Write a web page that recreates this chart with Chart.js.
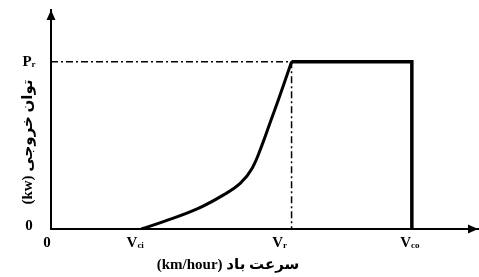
<!DOCTYPE html>
<html>
<head>
<meta charset="utf-8">
<script src="https://cdn.jsdelivr.net/npm/chart.js@4"></script>
<style>
  body { margin: 0; background: #fff; }
</style>
</head>
<body>
<canvas id="chart" width="479" height="277"></canvas>
<script>
// wind turbine power curve (schematic)
const curveX = [3, 3.74, 4.86, 5.74, 6.3, 6.69, 7.02, 7.3, 7.58, 8];
const curveY = [0, 0.044, 0.12, 0.204, 0.274, 0.364, 0.503, 0.643, 0.782, 1];
const ratedX = [8, 12, 12];
const ratedY = [1, 1, 0];
const guideX = [0, 8, 8];
const guideY = [1, 1, 0];

const xTicks = [0, 3, 8, 12];
const xTickLabels = [['0', ''], ['V', 'ci'], ['V', 'r'], ['V', 'co']];
const yTicks = [0, 1];
const yTickLabels = [['0', ''], ['P', 'r']];
const xTitle = 'سرعت باد (km/hour)';
const yTitle = 'توان خروجی (kw)';

const toPoints = (xs, ys) => xs.map((x, i) => ({ x: x, y: ys[i] }));

const mainFont = 'bold 15px "Liberation Serif", serif';
const subFont = 'bold 9px "Liberation Serif", serif';
const titleFont = 'bold 15px "Liberation Serif", "DejaVu Sans", sans-serif';

function drawLabel(ctx, parts, cx, cy) {
  ctx.font = mainFont;
  const w1 = ctx.measureText(parts[0]).width;
  ctx.font = subFont;
  const w2 = ctx.measureText(parts[1]).width;
  const left = cx - (w1 + w2) / 2;
  ctx.textAlign = 'left';
  ctx.textBaseline = 'middle';
  ctx.font = mainFont;
  ctx.fillText(parts[0], left, cy);
  ctx.font = subFont;
  ctx.fillText(parts[1], left + w1, cy + 3);
}

const axisDecor = {
  id: 'axisDecor',
  afterDraw(chart) {
    const { ctx, chartArea, scales: { x, y } } = chart;
    ctx.save();
    ctx.fillStyle = '#000';

    // arrow heads
    const y0 = y.getPixelForValue(0);
    const x0 = x.getPixelForValue(0);
    ctx.beginPath();
    ctx.moveTo(x0, chartArea.top);
    ctx.lineTo(x0 - 4.5, chartArea.top + 10);
    ctx.lineTo(x0 + 4.5, chartArea.top + 10);
    ctx.closePath();
    ctx.fill();
    ctx.beginPath();
    ctx.moveTo(chartArea.right, y0);
    ctx.lineTo(chartArea.right - 10, y0 - 4.5);
    ctx.lineTo(chartArea.right - 10, y0 + 4.5);
    ctx.closePath();
    ctx.fill();

    // tick labels
    const xOff = [-4, -6, -12, -2];
    xTicks.forEach((v, i) => {
      drawLabel(ctx, xTickLabels[i], x.getPixelForValue(v) + xOff[i], y0 + 14);
    });
    const yOff = [-3, 0];
    yTicks.forEach((v, i) => {
      drawLabel(ctx, yTickLabels[i], 29, y.getPixelForValue(v) + yOff[i]);
    });

    // axis titles
    ctx.font = titleFont;
    ctx.direction = 'rtl';
    ctx.textAlign = 'center';
    ctx.textBaseline = 'middle';
    ctx.fillText(xTitle, 228, 265);
    ctx.save();
    ctx.translate(28, 142);
    ctx.rotate(-Math.PI / 2);
    ctx.fillText(yTitle, 0, 0);
    ctx.restore();

    ctx.restore();
  }
};

new Chart(document.getElementById('chart'), {
  type: 'scatter',
  data: {
    datasets: [
      {
        data: toPoints(curveX, curveY),
        showLine: true,
        borderColor: '#000',
        borderWidth: 3,
        pointRadius: 0,
        tension: 0.4
      },
      {
        data: toPoints(ratedX, ratedY),
        showLine: true,
        borderColor: '#000',
        borderWidth: 3.5,
        pointRadius: 0,
        tension: 0
      },
      {
        data: toPoints(guideX, guideY),
        showLine: true,
        borderColor: '#000',
        borderWidth: 1.5,
        borderDash: [7, 3, 2, 3],
        pointRadius: 0,
        tension: 0
      }
    ]
  },
  options: {
    responsive: false,
    animation: false,
    devicePixelRatio: 1,
    layout: { padding: { top: 10, right: 1, left: 0, bottom: 0 } },
    plugins: {
      legend: { display: false },
      tooltip: { enabled: false }
    },
    scales: {
      x: {
        type: 'linear',
        min: 0,
        max: 14.2,
        grid: { display: false },
        ticks: { display: false },
        border: { display: true, color: '#000', width: 2 },
        afterFit(scale) { scale.height = 48; }
      },
      y: {
        type: 'linear',
        min: 0,
        max: 1.31,
        grid: { display: false },
        ticks: { display: false },
        border: { display: true, color: '#000', width: 2 },
        afterFit(scale) { scale.width = 51; }
      }
    }
  },
  plugins: [axisDecor]
});
</script>
</body>
</html>
